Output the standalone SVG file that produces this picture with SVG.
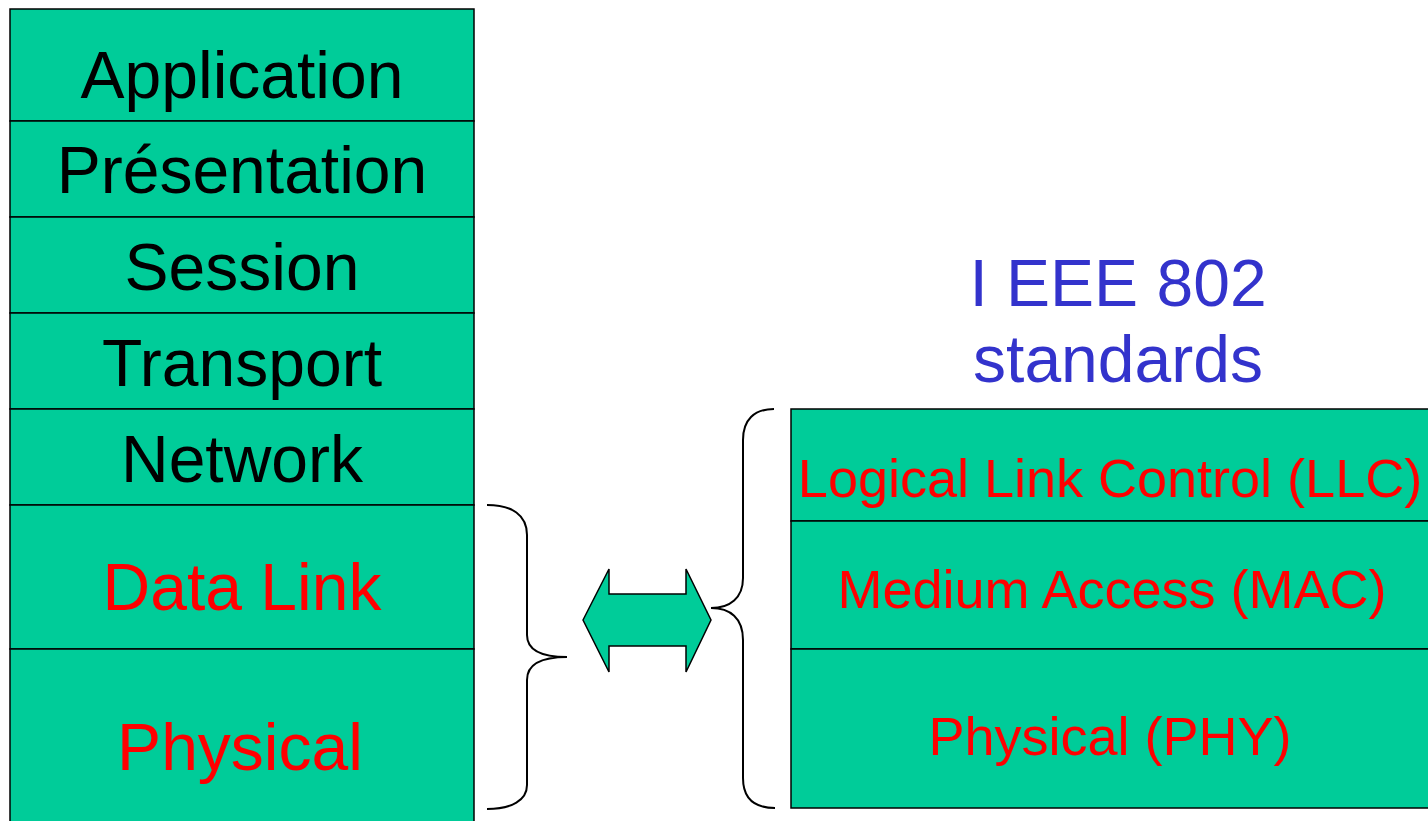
<svg xmlns="http://www.w3.org/2000/svg" width="1428" height="821" viewBox="0 0 1428 821">
  <style>
    .layer { fill: #00CC99; stroke: #000; stroke-width: 1.5; }
    .osi { font-family: "Liberation Sans", Arial, sans-serif; font-size: 66px; text-anchor: middle; fill: #000; }
    .red { fill: #FF0000; }
    .ieee { font-family: "Liberation Sans", Arial, sans-serif; font-size: 54px; text-anchor: middle; fill: #FF0000; }
    .title { font-family: "Liberation Sans", Arial, sans-serif; font-size: 66px; text-anchor: middle; fill: #3333CC; }
    .brace { fill: none; stroke: #000; stroke-width: 2; }
  </style>

  <!-- OSI reference model stack -->
  <g id="osi-application">
    <rect class="layer" x="10" y="9" width="464" height="112"/>
    <text class="osi" x="242" y="98">Application</text>
  </g>
  <g id="osi-presentation">
    <rect class="layer" x="10" y="121" width="464" height="96"/>
    <text class="osi" x="242" y="193">Présentation</text>
  </g>
  <g id="osi-session">
    <rect class="layer" x="10" y="217" width="464" height="96"/>
    <text class="osi" x="242" y="290">Session</text>
  </g>
  <g id="osi-transport">
    <rect class="layer" x="10" y="313" width="464" height="96"/>
    <text class="osi" x="242" y="386">Transport</text>
  </g>
  <g id="osi-network">
    <rect class="layer" x="10" y="409" width="464" height="96"/>
    <text class="osi" x="242" y="482">Network</text>
  </g>
  <g id="osi-datalink">
    <rect class="layer" x="10" y="505" width="464" height="144"/>
    <text class="osi red" x="242" y="610">Data Link</text>
  </g>
  <g id="osi-physical">
    <rect class="layer" x="10" y="649" width="464" height="190"/>
    <text class="osi red" x="240" y="770">Physical</text>
  </g>

  <!-- IEEE 802 title -->
  <g id="ieee-title">
    <text class="title" x="1118" y="306">I EEE 802</text>
    <text class="title" x="1118" y="382">standards</text>
  </g>

  <!-- IEEE 802 stack -->
  <g id="ieee-llc">
    <rect class="layer" x="791" y="409" width="660" height="112"/>
    <text class="ieee" x="1110" y="497">Logical Link Control (LLC)</text>
  </g>
  <g id="ieee-mac">
    <rect class="layer" x="791" y="521" width="660" height="128"/>
    <text class="ieee" x="1112" y="608">Medium Access (MAC)</text>
  </g>
  <g id="ieee-phy">
    <rect class="layer" x="791" y="649" width="660" height="159"/>
    <text class="ieee" x="1110" y="755">Physical (PHY)</text>
  </g>

  <!-- braces and double arrow -->
  <g id="connectors">
    <path class="brace" d="M487,505 C512,505 527,515 527,535 L527,635 C527,650 542,657 567,657 C542,657 527,664 527,680 L527,785 C527,800 512,809 487,809"/>
    <path class="brace" d="M774,409 C754,409 743,420 743,440 L743,578 C743,598 730,608 711,608 C730,608 743,618 743,640 L743,778 C743,798 754,808 775,808"/>
    <path class="layer" d="M583,620 L609,569 L609,594 L686,594 L686,569 L711,620 L686,672 L686,646 L609,646 L609,672 Z"/>
  </g>
</svg>
